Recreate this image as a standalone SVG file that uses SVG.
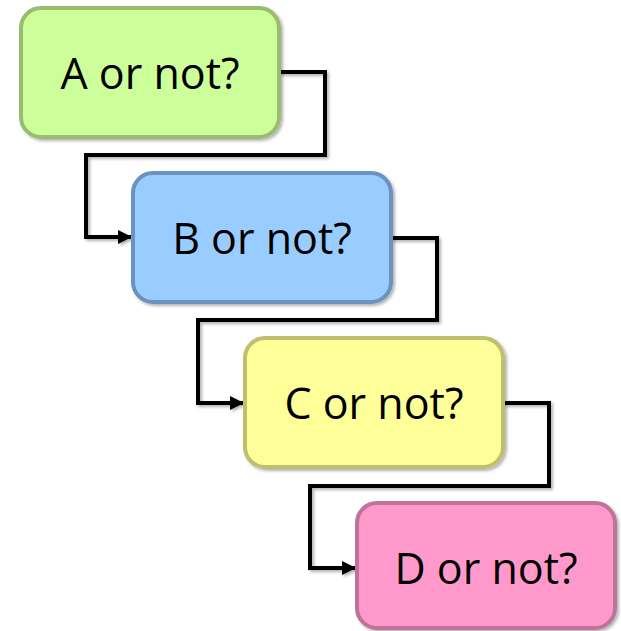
<svg xmlns="http://www.w3.org/2000/svg" width="621" height="631" viewBox="0 0 621 631">
<defs>
<filter id="sh" x="-10%" y="-10%" width="130%" height="130%">
<feDropShadow dx="2" dy="2" stdDeviation="1.5" flood-color="#000" flood-opacity="0.3"/>
</filter>
<marker id="ah" viewBox="0 0 10 10" refX="10" refY="5" markerWidth="4" markerHeight="3.5" orient="auto" markerUnits="strokeWidth">
<path d="M0,0 L10,5 L0,10 z" fill="#000"/>
</marker>
</defs>
<style>
.box{stroke-width:4;filter:url(#sh)}
.lbl{font-family:"Open Sans","Liberation Sans",sans-serif;font-size:43px;fill:#000;text-anchor:middle}
.con{fill:none;stroke:#000;stroke-width:4;stroke-linejoin:miter;filter:url(#sh)}
</style>
<g id="connectors">
<path class="con" d="M279,72 H325 V155 H86 V237 H132" marker-end="url(#ah)"/>
<path class="con" d="M391,238 H437 V320 H198 V403 H244" marker-end="url(#ah)"/>
<path class="con" d="M503,403 H549 V486 H310 V568 H356" marker-end="url(#ah)"/>
</g>
<g id="nodeA">
<rect class="box" x="21" y="8" width="258" height="129" rx="20" fill="#ccff99" stroke="#9bbb6f"/>
<text class="lbl" x="150" y="89">A or not?</text>
</g>
<g id="nodeB">
<rect class="box" x="133" y="173" width="258" height="129" rx="20" fill="#99ccff" stroke="#6c93bf"/>
<text class="lbl" x="262" y="254">B or not?</text>
</g>
<g id="nodeC">
<rect class="box" x="245" y="338" width="258" height="129" rx="20" fill="#ffff99" stroke="#bfbf70"/>
<text class="lbl" x="374" y="419">C or not?</text>
</g>
<g id="nodeD">
<rect class="box" x="357" y="503" width="258" height="125" rx="20" fill="#ff99cc" stroke="#bf7398"/>
<text class="lbl" x="486" y="584">D or not?</text>
</g>
</svg>
